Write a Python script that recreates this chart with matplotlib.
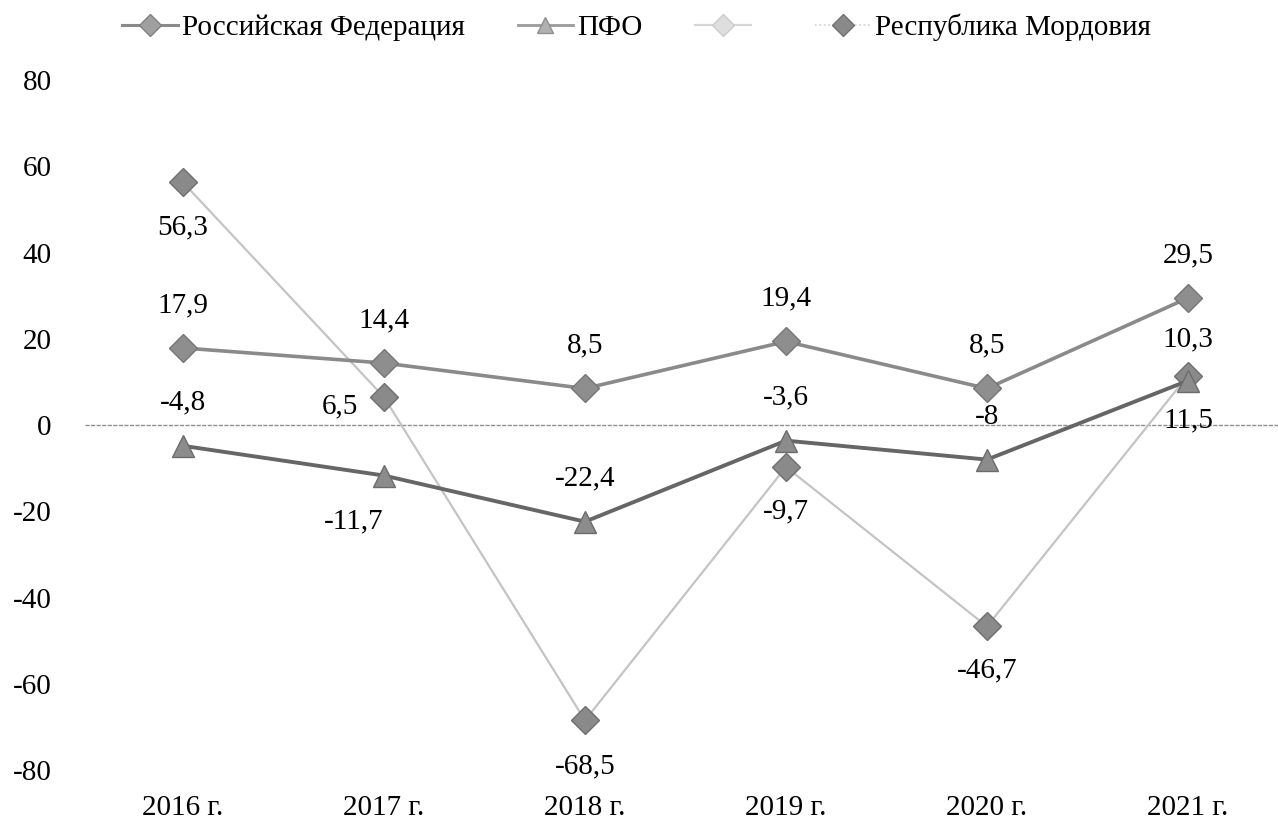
import matplotlib.pyplot as plt
from matplotlib.lines import Line2D

plt.rcParams['font.family'] = ['Liberation Serif', 'DejaVu Serif']
plt.rcParams['axes.unicode_minus'] = False

years = ["2016 г.", "2017 г.", "2018 г.", "2019 г.", "2020 г.", "2021 г."]
rf_values = [17.9, 14.4, 8.5, 19.4, 8.5, 29.5]
pfo_values = [-4.8, -11.7, -22.4, -3.6, -8, 10.3]
mord_values = [56.3, 6.5, -68.5, -9.7, -46.7, 11.5]
rf_labels = ["17,9", "14,4", "8,5", "19,4", "8,5", "29,5"]
pfo_labels = ["-4,8", "-11,7", "-22,4", "-3,6", "-8", "10,3"]
mord_labels = ["56,3", "6,5", "-68,5", "-9,7", "-46,7", "11,5"]

fig = plt.figure(figsize=(12.78, 8.25), dpi=100)
ax = fig.add_axes([0.0665, 0.0667, 0.9335, 0.836])

x = list(range(len(years)))

ax.axhline(0, color='#8f8f8f', lw=1.0, ls=(0, (3, 1)), zorder=1)

ax.plot(x, mord_values, color='#c4c4c4', lw=1.6, marker='D', ms=14,
        markerfacecolor='#8a8a8a', markeredgecolor='#6f6f6f', zorder=2)
ax.plot(x, rf_values, color='#8a8a8a', lw=2.6, marker='D', ms=14,
        markerfacecolor='#8e8e8e', markeredgecolor='#767676', zorder=3)
ax.plot(x, pfo_values, color='#666666', lw=2.8, marker='^', ms=16,
        markerfacecolor='#8c8c8c', markeredgecolor='#6c6c6c', zorder=3)

fs = 21
for i in x:
    ax.annotate(rf_labels[i], (i, rf_values[i]), xytext=(0, 31), textcoords='offset points',
                ha='center', va='center', fontsize=fs, annotation_clip=False)

pfo_off = [(0, 31), (-22, -33), (0, 31), (0, 31), (0, 31), (0, 30)]
for i in x:
    ax.annotate(pfo_labels[i], (i, pfo_values[i]), xytext=pfo_off[i], textcoords='offset points',
                ha='center', va='center', fontsize=fs, annotation_clip=False)

mord_off = [(0, -32), (-32, -7), (0, -33), (0, -32), (0, -32), (0, -32)]
for i in x:
    ax.annotate(mord_labels[i], (i, mord_values[i]), xytext=mord_off[i], textcoords='offset points',
                ha='center', va='center', fontsize=fs, annotation_clip=False)

ax.set_xlim(-0.4876, 5.448)
ax.set_ylim(-80, 80)
ax.set_yticks(range(-80, 81, 20))
ax.set_xticks(x)
ax.set_xticklabels(years)
ax.tick_params(axis='both', length=0, labelsize=fs)
ax.tick_params(axis='x', pad=18)
ax.tick_params(axis='y', pad=24)
for s in ax.spines.values():
    s.set_visible(False)

handles = [
    Line2D([], [], color='#8a8a8a', lw=2.2, marker='D', ms=11,
           markerfacecolor='#a0a0a0', markeredgecolor='#808080'),
    Line2D([], [], color='#9a9a9a', lw=2.0, marker='^', ms=12,
           markerfacecolor='#b0b0b0', markeredgecolor='#909090'),
    Line2D([], [], color='#d6d6d6', lw=1.6, marker='D', ms=11,
           markerfacecolor='#dedede', markeredgecolor='#cccccc'),
    Line2D([], [], color='#d0d0d0', lw=1.2, ls=':', marker='D', ms=11,
           markerfacecolor='#8a8a8a', markeredgecolor='#707070'),
]
labels = ["Российская Федерация", "ПФО", " ", "Республика Мордовия"]
fig.legend(handles, labels, loc='upper center', bbox_to_anchor=(0.498, 1.015), ncol=4,
           frameon=False, fontsize=fs, handlelength=1.9, columnspacing=1.8, handletextpad=0.15)

fig.savefig('out.png', dpi=100)
